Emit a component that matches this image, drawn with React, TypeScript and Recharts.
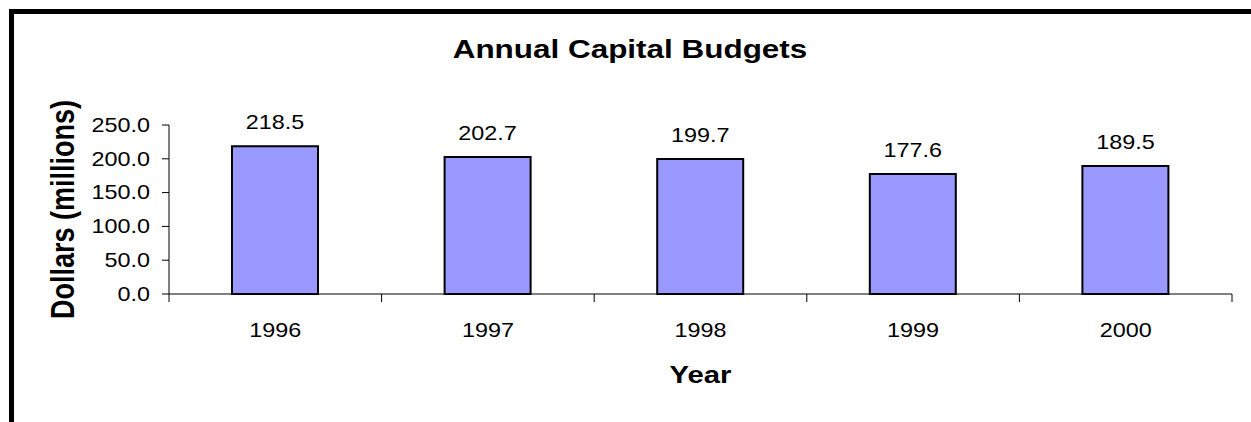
import React from 'react';
import { BarChart, Bar, XAxis, YAxis, LabelList } from 'recharts';

const years = ['1996', '1997', '1998', '1999', '2000'];
const budgets = [218.5, 202.7, 199.7, 177.6, 189.5];
const yTicks = [0, 50, 100, 150, 200, 250];

const data = years.map((year, i) => ({ year, budget: budgets[i] }));

const W = 1251;
const H = 422;
const FONT = '"Liberation Sans", Arial, Helvetica, sans-serif';
const SX = 1.17;
const MARGIN = { top: 125, right: 19, bottom: 68, left: 69 };
const Y_AXIS_W = 100;
const X_AXIS_H = 60;
const AXIS_Y = H - MARGIN.bottom - X_AXIS_H;

function YTick(props: any) {
  const { x, y, payload } = props;
  return (
    <text
      transform={`translate(${x},${y}) scale(${SX},1)`}
      textAnchor="end"
      dominantBaseline="central"
      fontFamily={FONT}
      fontSize={20}
      fill="#000"
    >
      {Number(payload.value).toFixed(1)}
    </text>
  );
}

function XTick(props: any) {
  const { x, payload, index } = props;
  const half = payload.offset || 106;
  return (
    <g>
      <line x1={x - half} x2={x - half} y1={AXIS_Y} y2={AXIS_Y + 8} stroke="#000" strokeWidth={1} />
      {index === years.length - 1 && (
        <line x1={x + half} x2={x + half} y1={AXIS_Y} y2={AXIS_Y + 8} stroke="#000" strokeWidth={1} />
      )}
      <text
        transform={`translate(${x},${AXIS_Y + 36}) scale(${SX},1)`}
        textAnchor="middle"
        dominantBaseline="central"
        fontFamily={FONT}
        fontSize={20}
        fill="#000"
      >
        {payload.value}
      </text>
    </g>
  );
}

function ValueLabel(props: any) {
  const { x, y, width, value } = props;
  return (
    <text
      transform={`translate(${x + width / 2},${y - 24}) scale(${SX},1)`}
      textAnchor="middle"
      dominantBaseline="central"
      fontFamily={FONT}
      fontSize={20}
      fill="#000"
    >
      {Number(value).toFixed(1)}
    </text>
  );
}

function YLabel(props: any) {
  const vb = props.viewBox || { x: MARGIN.left, y: MARGIN.top, width: Y_AXIS_W, height: AXIS_Y - MARGIN.top };
  const cx = vb.x - 7;
  const cy = vb.y + vb.height / 2;
  return (
    <text
      transform={`translate(${cx},${cy}) rotate(-90) scale(1,1.25)`}
      textAnchor="middle"
      dominantBaseline="central"
      fontFamily={FONT}
      fontSize={27}
      fontWeight="bold"
      fill="#000"
    >
      Dollars (millions)
    </text>
  );
}

function XLabel(props: any) {
  const vb = props.viewBox || { x: MARGIN.left + Y_AXIS_W, y: AXIS_Y, width: 1063, height: X_AXIS_H };
  const cx = vb.x + vb.width / 2;
  return (
    <text
      transform={`translate(${cx},${AXIS_Y + 81}) scale(1.22,1)`}
      textAnchor="middle"
      dominantBaseline="central"
      fontFamily={FONT}
      fontSize={24}
      fontWeight="bold"
      fill="#000"
    >
      Year
    </text>
  );
}

export default function App() {
  return (
    <div style={{ position: 'fixed', left: 0, top: 0, width: W, height: H, overflow: 'hidden', background: '#fff' }}>
      <div
        style={{
          position: 'absolute',
          left: 9,
          top: 9,
          width: 1400,
          height: 600,
          border: '5px solid #000',
          boxSizing: 'border-box',
        }}
      />
      <svg width={W} height={100} style={{ position: 'absolute', left: 0, top: 0 }}>
        <text
          transform={`translate(630,48.5) scale(1.21,1)`}
          textAnchor="middle"
          dominantBaseline="central"
          fontFamily={FONT}
          fontSize={26}
          fontWeight="bold"
          fill="#000"
        >
          Annual Capital Budgets
        </text>
      </svg>
      <div style={{ position: 'absolute', left: 0, top: 0 }}>
        <BarChart width={W} height={H} data={data} margin={MARGIN}>
          <XAxis
            dataKey="year"
            height={X_AXIS_H}
            axisLine={{ stroke: '#000', strokeWidth: 1 }}
            tickLine={false}
            tick={<XTick />}
            interval={0}
            label={<XLabel />}
          />
          <YAxis
            width={Y_AXIS_W}
            domain={[0, 250]}
            ticks={yTicks}
            interval={0}
            axisLine={{ stroke: '#000', strokeWidth: 1 }}
            tickLine={{ stroke: '#000', strokeWidth: 1 }}
            tickSize={7}
            tickMargin={12}
            tick={<YTick />}
            label={<YLabel />}
          />
          <Bar
            dataKey="budget"
            fill="#9999FF"
            stroke="#000"
            strokeWidth={2}
            barSize={86}
            isAnimationActive={false}
          >
            <LabelList dataKey="budget" content={<ValueLabel />} />
          </Bar>
        </BarChart>
      </div>
    </div>
  );
}
